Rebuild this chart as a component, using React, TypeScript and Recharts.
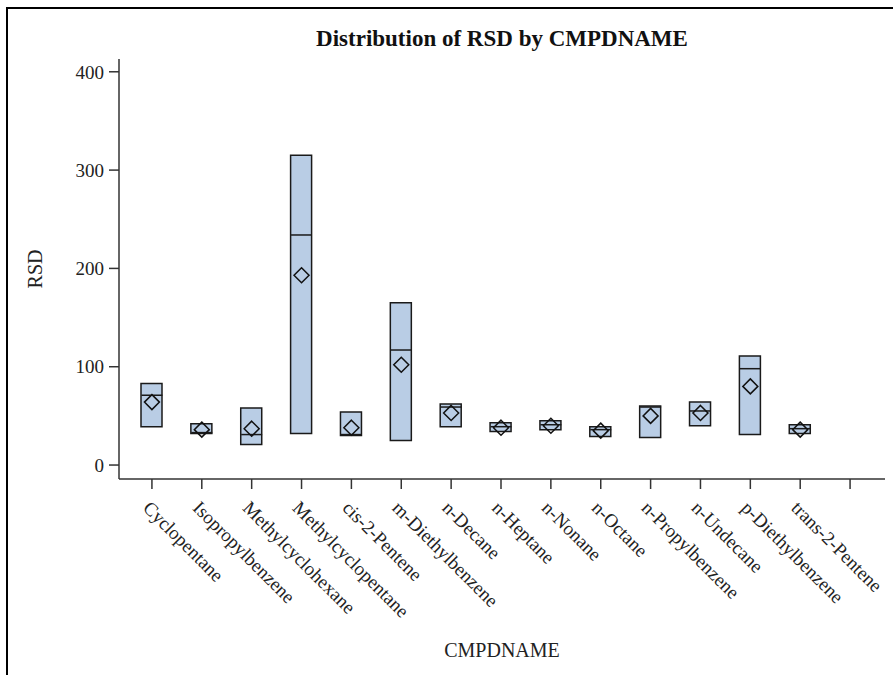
import { ComposedChart, Bar, Line, XAxis, YAxis, Label } from "recharts";

// compound names (last slot is an unnamed level with no data)
const compounds = [
  "Cyclopentane",
  "Isopropylbenzene",
  "Methylcyclohexane",
  "Methylcyclopentane",
  "cis-2-Pentene",
  "m-Diethylbenzene",
  "n-Decane",
  "n-Heptane",
  "n-Nonane",
  "n-Octane",
  "n-Propylbenzene",
  "n-Undecane",
  "p-Diethylbenzene",
  "trans-2-Pentene",
  "",
];

const q1Values = [39, 32, 21, 32, 30, 25, 39, 34, 36, 29, 28, 40, 31, 32, null];
const q3Values = [83, 42, 58, 315, 54, 165, 62, 43, 45, 39, 60, 64, 111, 41, null];
const medianValues = [71, 33, 31, 234, 31, 117, 59, 39, 41, 36, 59, 55, 98, 37, null];
const meanValues = [64, 36, 37, 193, 38, 102, 53, 38, 40, 35, 50, 53, 80, 36, null];

const yTicks = [0, 100, 200, 300, 400];

const data = compounds.map((name, i) => ({
  name,
  box: q1Values[i] == null ? null : [q1Values[i], q3Values[i]],
  median: medianValues[i],
  mean: meanValues[i],
}));

const FONT = '"Liberation Serif", "Times New Roman", serif';
const AXIS = "#333333";
const BOX_FILL = "#B9CDE5";
const BOX_W = 21;

const MedianMark = (props: any) => {
  const { cx, cy, index } = props;
  if (cx == null || cy == null) return <g key={`m-${index}`} />;
  return (
    <line
      key={`m-${index}`}
      x1={cx - BOX_W / 2}
      x2={cx + BOX_W / 2}
      y1={cy}
      y2={cy}
      stroke="#1a1a1a"
      strokeWidth={1.5}
    />
  );
};

const MeanMark = (props: any) => {
  const { cx, cy, index } = props;
  if (cx == null || cy == null) return <g key={`d-${index}`} />;
  const r = 7.5;
  return (
    <path
      key={`d-${index}`}
      d={`M${cx},${cy - r} L${cx + r},${cy} L${cx},${cy + r} L${cx - r},${cy} Z`}
      fill="none"
      stroke="#111"
      strokeWidth={1.5}
    />
  );
};

const CategoryTick = (props: any) => {
  const { x, y, payload } = props;
  const px = x - 10;
  const py = y + 18;
  return (
    <text
      x={px}
      y={py}
      transform={`rotate(45, ${px}, ${py})`}
      textAnchor="start"
      fontFamily={FONT}
      fontSize={19}
      fill="#222"
    >
      {payload.value}
    </text>
  );
};

export default function App() {
  return (
    <div
      style={{
        position: "absolute",
        left: 0,
        top: 0,
        width: 893,
        height: 675,
        background: "#fff",
        overflow: "hidden",
      }}
    >
      {/* outer frame, only its top and left edges are in view */}
      <div
        style={{
          position: "absolute",
          left: 6,
          top: 7,
          width: 950,
          height: 750,
          borderLeft: "2px solid #000",
          borderTop: "2px solid #000",
        }}
      />
      <div style={{ position: "absolute", left: 0, top: 0 }}>
        <ComposedChart
          width={893}
          height={675}
          data={data}
          margin={{ top: 59, right: 8, left: 0, bottom: 0 }}
        >
          <XAxis
            dataKey="name"
            type="category"
            height={196}
            padding={{ left: 8, right: 10 }}
            interval={0}
            tickSize={10}
            stroke={AXIS}
            strokeWidth={1.5}
            tickLine={{ stroke: AXIS, strokeWidth: 1.5 }}
            tick={<CategoryTick />}
          >
            <Label
              value="CMPDNAME"
              position="insideBottom"
              offset={18}
              fontFamily={FONT}
              fontSize={20}
              fill="#222"
            />
          </XAxis>
          <XAxis
            xAxisId="top"
            dataKey="name"
            orientation="top"
            height={0}
            tick={false}
            tickLine={false}
            stroke={AXIS}
            strokeWidth={1.5}
          />
          <YAxis
            width={119}
            domain={[-14.2, 413]}
            ticks={yTicks}
            allowDataOverflow
            tickSize={10}
            tickMargin={5}
            stroke={AXIS}
            strokeWidth={1.5}
            tickLine={{ stroke: AXIS, strokeWidth: 1.5 }}
            tick={{ fontFamily: FONT, fontSize: 19, fill: "#222" }}
          >
            <Label
              value="RSD"
              angle={-90}
              position="center"
              dx={-25}
              fontFamily={FONT}
              fontSize={20}
              fill="#222"
            />
          </YAxis>
          <YAxis
            yAxisId="right"
            orientation="right"
            width={0}
            domain={[0, 1]}
            tick={false}
            tickLine={false}
            stroke={AXIS}
            strokeWidth={1.5}
          />
          <Bar
            dataKey="box"
            barSize={BOX_W}
            fill={BOX_FILL}
            stroke="#1a1a1a"
            strokeWidth={1.5}
            isAnimationActive={false}
          />
          <Line
            dataKey="median"
            stroke="none"
            dot={<MedianMark />}
            activeDot={false}
            isAnimationActive={false}
          />
          <Line
            dataKey="mean"
            stroke="none"
            dot={<MeanMark />}
            activeDot={false}
            isAnimationActive={false}
          />
        </ComposedChart>
      </div>
      <svg
        width={893}
        height={675}
        style={{ position: "absolute", left: 0, top: 0, pointerEvents: "none" }}
      >
        <text
          x={502}
          y={46}
          textAnchor="middle"
          fontFamily={FONT}
          fontWeight="bold"
          fontSize={23}
          fill="#111"
        >
          Distribution of RSD by CMPDNAME
        </text>
      </svg>
    </div>
  );
}
